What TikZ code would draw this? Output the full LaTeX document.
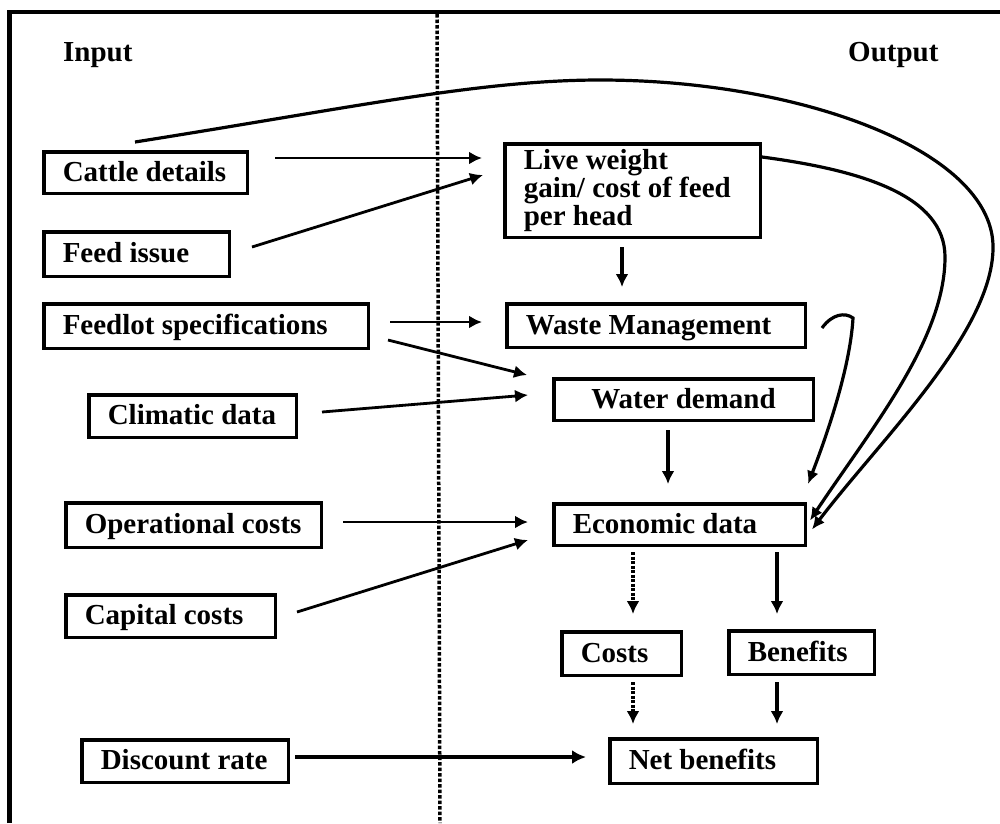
\documentclass[tikz,border=0pt]{standalone}
\usepackage{fontspec}
\setmainfont{Liberation Serif}
\usetikzlibrary{arrows.meta,calc}
\begin{document}
\begin{tikzpicture}[x=1pt,y=-1pt,
  box/.style={draw, line width=3.5pt, inner xsep=19pt, inner ysep=0pt,
    font=\fontsize{29}{26.5}\selectfont\bfseries},
  one/.style={text height=19pt, text depth=2pt},
  lbl/.style={inner sep=0pt, anchor=base west, font=\fontsize{29}{26.5}\selectfont\bfseries},
  arr/.style={line width=2.8pt, -{Latex[length=13pt,width=13pt]}},
  thick arr/.style={line width=4.5pt, -{Latex[length=14pt,width=14pt]}},
  dot arr/.style={line width=3.5pt, dash pattern=on 3pt off 1.5pt, -{Latex[length=13pt,width=13pt]}},
  vert arr/.style={line width=3.5pt, -{Latex[length=13pt,width=13pt]}},
  curve/.style={line width=3.2pt, -{Latex[length=13pt,width=12pt]}},
  frame/.style={line width=4.5pt, line join=miter},
  sep/.style={line width=3.5pt, dash pattern=on 3.5pt off 2pt}
]
\useasboundingbox (0,0) rectangle (1000,823);
\fill[white] (0,0) rectangle (1000,823);

% frame and separator
\draw[frame] (9.5,823) -- (9.5,12) -- (1000,12);
\draw[sep] (437,14) -- (440,823);

% headings
\node[lbl] (input) at (63,61) {Input};
\node[lbl] (output) at (848,61) {Output};

% input boxes
\node[box, one, minimum width=203.5pt, minimum height=41.5pt] (cattle) at (145.5,172.5) {\makebox[165.5pt][l]{Cattle details}};
\node[box, one, minimum width=185.5pt, minimum height=44.5pt] (feed) at (136.5,254) {\makebox[147.5pt][l]{Feed issue}};
\node[box, one, minimum width=324.5pt, minimum height=44.5pt] (feedlot) at (206,326) {\makebox[286.5pt][l]{Feedlot specifications}};
\node[box, one, minimum width=207.5pt, minimum height=42.5pt] (climatic) at (192.5,416) {\makebox[169.5pt][l]{Climatic data}};
\node[box, one, minimum width=255.5pt, minimum height=44.5pt] (oper) at (193.5,525) {\makebox[217.5pt][l]{Operational costs}};
\node[box, one, minimum width=209.5pt, minimum height=42.5pt] (capital) at (170.5,616) {\makebox[171.5pt][l]{Capital costs}};
\node[box, one, minimum width=206.5pt, minimum height=42.5pt] (discount) at (185,761) {\makebox[168.5pt][l]{Discount rate}};

% output boxes
\node[box, minimum width=255.5pt, minimum height=93.5pt] (lwg) at (632.5,190.5) {\parbox{217.5pt}{\raggedright Live weight\\ gain/ cost of feed\\ per head}};
\node[box, one, minimum width=298.5pt, minimum height=43.5pt] (waste) at (656,325.5) {\makebox[260.5pt][l]{Waste Management}};
\node[box, one, minimum width=259.5pt, minimum height=41.5pt] (water) at (683.5,399.5) {\makebox[221.5pt][c]{Water demand}};
\node[box, one, minimum width=251.5pt, minimum height=41.5pt] (econ) at (679.5,524.5) {\makebox[213.5pt][l]{Economic data}};
\node[box, one, minimum width=119.5pt, minimum height=43.5pt] (costs) at (621.5,653.5) {\makebox[81.5pt][l]{Costs}};
\node[box, one, minimum width=145.5pt, minimum height=43.5pt] (benefits) at (801.5,652.5) {\makebox[107.5pt][l]{Benefits}};
\node[box, one, minimum width=207.5pt, minimum height=44.5pt] (net) at (713.5,761) {\makebox[169.5pt][l]{Net benefits}};

% straight connectors
\draw[arr] ($(cattle.north east)+(26,8)$) -- ($(lwg.north west)+(-21,16)$);
\draw[arr] ($(feed.east)+(21,-7)$) -- ($(lwg.north west)+(-20,33)$);
\draw[vert arr] ($(lwg.south)+(-10.5,8)$) -- ($(waste.north)+(-34,-15)$);
\draw[arr] ($(feedlot.east)+(20,-4)$) -- ($(waste.west)+(-23,-3.5)$);
\draw[arr] ($(feedlot.east)+(18,14)$) -- ($(water.west)+(-25,-24.5)$);
\draw[arr] ($(climatic.east)+(24,-4)$) -- ($(water.west)+(-24,-4.5)$);
\draw[vert arr] ($(water.south)+(-15.5,8)$) -- ($(econ.north)+(-11.5,-18)$);
\draw[arr] ($(oper.east)+(20,-3)$) -- ($(econ.west)+(-24,-2.5)$);
\draw[arr] ($(capital.east)+(20,-4)$) -- ($(econ.west)+(-24,15.5)$);
\draw[dot arr] ($(econ.south)+(-46.5,5)$) -- ($(costs.north)+(11.5,-16)$);
\draw[vert arr] ($(econ.south)+(97.5,5)$) -- ($(benefits.north)+(-24.5,-15)$);
\draw[dot arr] ($(costs.south)+(11.5,5)$) -- ($(net.north)+(-80.5,-13)$);
\draw[vert arr] ($(benefits.south)+(-24.5,6)$) -- ($(net.north)+(63.5,-13)$);
\draw[thick arr] ($(discount.east)+(5,-4)$) -- ($(net.west)+(-22,-4)$);

% curved connectors
\draw[curve] ($(cattle.north)+(-10.5,-8)$) .. controls (350,108) and (480,80) .. (600,80)
  .. controls (800,80) and (990,150) .. (993,245)
  .. controls (995,330) and (880,440) .. ($(econ.east)+(5,5)$);
\draw[curve] ($(lwg.north east)+(0,15)$) .. controls (860,170) and (945,195) .. (945,257)
  .. controls (945,340) and (870,430) .. ($(econ.east)+(3,-4)$);
\draw[curve] ($(waste.east)+(15,2.5)$) .. controls (832,314) and (845,312) .. (853,318)
  .. controls (850,370) and (825,440) .. ($(econ.north east)+(1,-18)$);
\end{tikzpicture}
\end{document}
